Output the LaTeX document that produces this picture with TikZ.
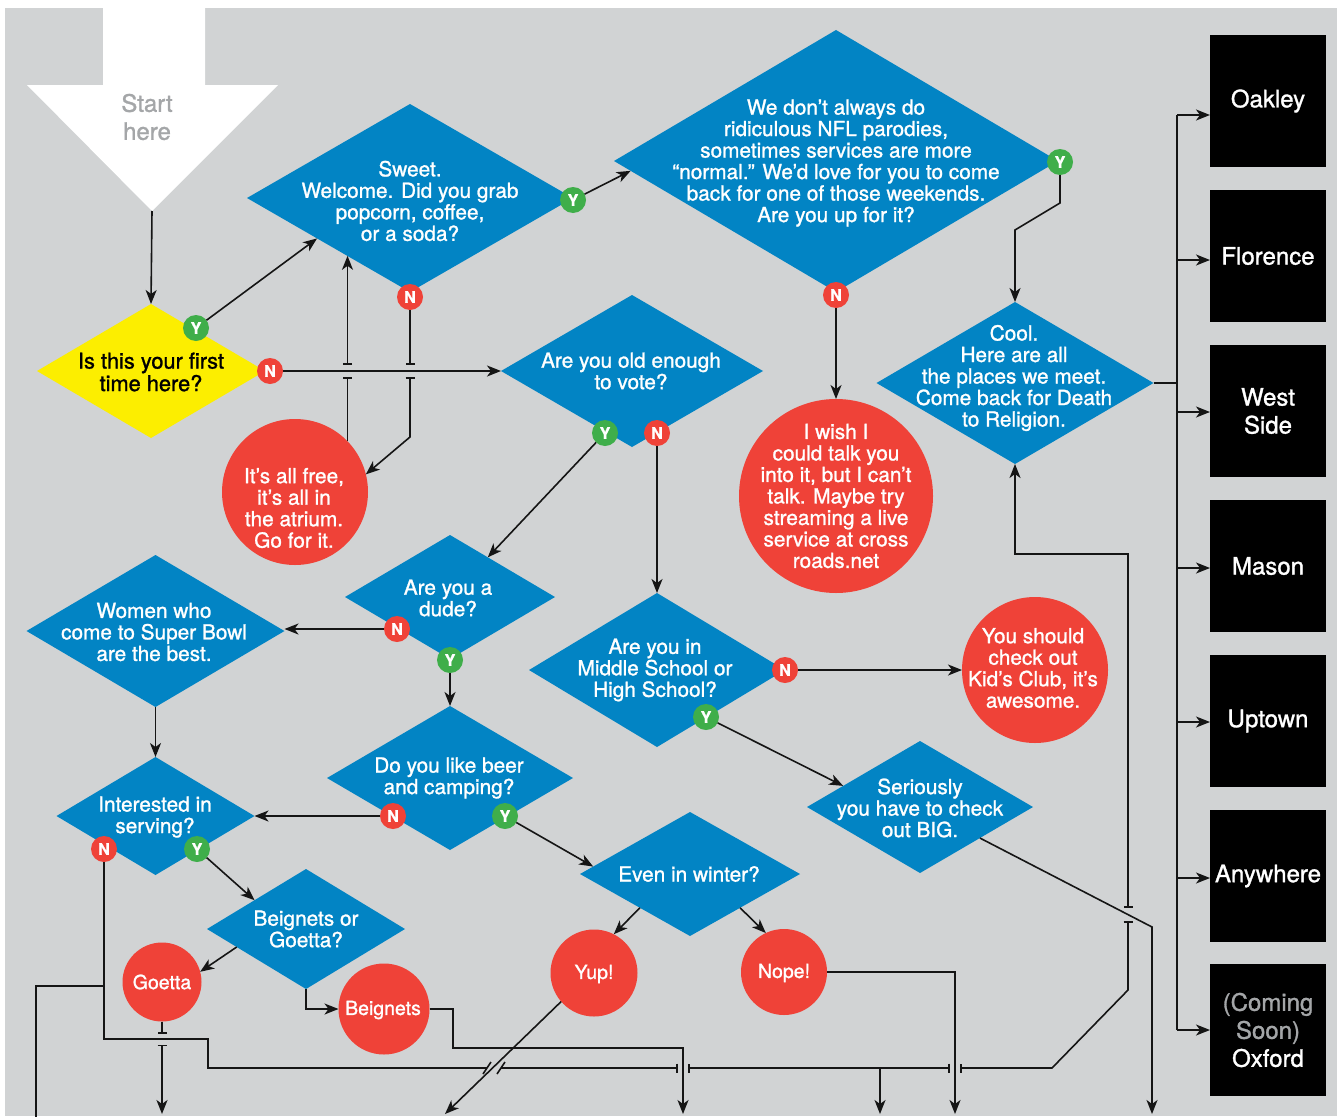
\documentclass[tikz,border=0pt]{standalone}
\usepackage{fontspec}
\setmainfont{TeX Gyre Heros}[RawFeature={embolden=1.2}]
\usetikzlibrary{shapes.geometric,arrows.meta,calc}
\definecolor{qblue}{HTML}{0284C4}
\definecolor{qyellow}{HTML}{FCEE00}
\definecolor{rred}{HTML}{EF4238}
\definecolor{ygreen}{HTML}{3FAE4A}
\definecolor{bg}{HTML}{D1D3D4}
\definecolor{lc}{HTML}{151515}
\definecolor{startgray}{HTML}{A4A6A8}
\begin{document}
\begin{tikzpicture}[x=1pt,y=-1pt,
  line/.style={draw=lc, line width=1.6pt},
  arr/.style={line, -{Stealth[length=14pt,width=11pt,inset=4pt]}},
  barend/.style={line, -{Bar[width=9pt]}},
  barstart/.style={line, {Bar[width=9pt]}-},
  barboth/.style={line, {Bar[width=9pt]}-{Bar[width=9pt]}},
  barstartarr/.style={line, {Bar[width=9pt]}-{Stealth[length=14pt,width=11pt,inset=4pt]}},
  dia/.style={diamond, fill=qblue, inner sep=0pt, outer sep=0pt},
  rc/.style={circle, fill=rred, inner sep=0pt, outer sep=0pt},
  qtxt/.style={text=white, align=center, inner sep=0pt, font=\fontsize{20.8}{21.5}\selectfont},
  stxt/.style={text=white, inner sep=0pt, font=\fontsize{19.5}{21}\selectfont},
  badge/.style={circle, minimum size=26pt, inner sep=0pt, outer sep=0pt, text=white, font=\bfseries\fontsize{16}{16}\selectfont},
  yb/.style={badge, fill=ygreen},
  nb/.style={badge, fill=rred},
  loc/.style={rectangle, fill=black, minimum width=116pt, minimum height=132pt, inner sep=0pt, outer sep=0pt, text=white, align=center, font=\fontsize{24}{28}\selectfont}
]
\useasboundingbox (0,0) rectangle (1337,1116);
\fill[white] (0,0) rectangle (1337,1116);
\fill[bg] (5,8) rectangle (1337,1116);
% start arrow
\fill[white] (103,7) -- (205,7) -- (205,85) -- (278,85) -- (152,211) -- (27,85) -- (103,85) -- cycle;
\coordinate (startTip) at (152,211);
\node[text=startgray, align=center, inner sep=0pt, font=\fontsize{24}{28}\selectfont] (startT) at (147,117) {Start\\here};

% diamonds
\node[dia, fill=qyellow, minimum width=228pt, minimum height=134pt] (q1) at (151,371) {};
\node[dia, minimum width=326pt, minimum height=188pt] (sweet) at (410,198) {};
\node[dia, minimum width=444pt, minimum height=262pt] (nfl) at (836,161) {};
\node[dia, minimum width=262pt, minimum height=152pt] (vote) at (632,371) {};
\node[dia, minimum width=277pt, minimum height=162pt] (cool) at (1015,383) {};
\node[dia, minimum width=210pt, minimum height=124pt] (dude) at (450,597) {};
\node[dia, minimum width=258pt, minimum height=152pt] (women) at (155.5,631) {};
\node[dia, minimum width=246pt, minimum height=144pt] (beer) at (450,778) {};
\node[dia, minimum width=198pt, minimum height=118pt] (int) at (155.5,816) {};
\node[dia, minimum width=198pt, minimum height=120pt] (bog) at (306,929) {};
\node[dia, minimum width=256pt, minimum height=154pt] (ms) at (657,670) {};
\node[dia, minimum width=226pt, minimum height=132pt] (big) at (920,807) {};
\node[dia, minimum width=220pt, minimum height=124pt] (winter) at (690,874) {};

% red circles
\node[rc, minimum size=146pt] (free) at (295,492) {};
\node[rc, minimum size=194pt] (wish) at (836,496) {};
\node[rc, minimum size=146pt] (kids) at (1035,670) {};
\node[rc, minimum size=79pt] (goetta) at (162,982) {};
\node[rc, minimum size=91pt] (beig) at (384,1009) {};
\node[rc, minimum size=87pt] (yup) at (594,973) {};
\node[rc, minimum size=86pt] (nope) at (784,972) {};

% location boxes
\node[loc] (oak) at (1268,101) {Oakley};
\node[loc] (flo) at (1268,256) {Florence};
\node[loc] (wes) at (1268,411) {West\\Side};
\node[loc] (mas) at (1268,566) {Mason};
\node[loc] (upt) at (1268,721) {Uptown};
\node[loc] (any) at (1268,876) {Anywhere};
\node[loc] (oxf) at (1268,1030) {{\color{startgray}(Coming}\\{\color{startgray}Soon)}\\Oxford};

% badges
\node[yb] (y1) at (196,328) {Y};
\node[nb] (n1) at (270,371) {N};
\node[yb] (sweetY) at (573,200) {Y};
\node[nb] (sweetN) at (410,297) {N};
\node[yb] (nflY) at (1060,162) {Y};
\node[nb] (nflN) at (836,295) {N};
\node[yb] (voteY) at (605,433) {Y};
\node[nb] (voteN) at (657,433) {N};
\node[nb] (dudeN) at (397,629) {N};
\node[yb] (dudeY) at (450,660) {Y};
\node[nb] (beerN) at (393,816) {N};
\node[yb] (beerY) at (505,816) {Y};
\node[nb] (intN) at (104,849) {N};
\node[yb] (intY) at (197,849) {Y};
\node[nb] (msN) at (785,670) {N};
\node[yb] (msY) at (706,717) {Y};

% texts
\node[qtxt, text=black, font=\fontsize{21.8}{22.5}\selectfont] (q1T) at (151,372) {Is this your first\\time here?};
\node[qtxt] (sweetT) at (410,201) {Sweet.\\Welcome. Did you grab\\popcorn, coffee,\\or a soda?};
\node[qtxt] (nflT) at (836,163) {We don’t always do\\ridiculous NFL parodies,\\sometimes services are more\\“normal.” We’d love for you to come\\back for one of those weekends.\\Are you up for it?};
\node[qtxt] (voteT) at (631,371) {Are you old enough\\to vote?};
\node[qtxt] (coolT) at (1014,378) {Cool.\\Here are all\\the places we meet.\\Come back for Death\\to Religion.};
\node[qtxt] (wishT) at (836,496) {I wish I\\could talk you\\into it, but I can’t\\talk. Maybe try\\streaming a live\\service at cross\\roads.net};
\node[qtxt] (freeT) at (294,508) {It’s all free,\\it’s all in\\the atrium.\\Go for it.};
\node[qtxt] (dudeT) at (448,598) {Are you a\\dude?};
\node[qtxt] (womenT) at (154,632) {Women who\\come to Super Bowl\\are the best.};
\node[qtxt] (msT) at (655,670) {Are you in\\Middle School or\\High School?};
\node[qtxt] (kidsT) at (1033,668) {You should\\check out\\Kid’s Club, it’s\\awesome.};
\node[qtxt] (beerT) at (449,778) {Do you like beer\\and camping?};
\node[qtxt] (intT) at (155,817) {Interested in\\serving?};
\node[qtxt] (bigT) at (920,808) {Seriously\\you have to check\\out BIG.};
\node[qtxt] (winterT) at (689,874) {Even in winter?};
\node[qtxt] (bogT) at (306,929) {Beignets or\\Goetta?};
\node[stxt] (goettaT) at (162,982) {Goetta};
\node[stxt] (beigT) at (383,1010) {Beignets};
\node[stxt] (yupT) at (594,974) {Yup!};
\node[stxt] (nopeT) at (784,973) {Nope!};

% edge points
\coordinate (e1) at ($(sweet.west)!0.43!(sweet.south)$);
\coordinate (e2) at ($(nfl.west)!0.075!(nfl.south)$);
\coordinate (e3) at ($(dude.north)!0.36!(dude.east)$);
\coordinate (e4) at ($(winter.west)!0.12!(winter.north)$);
\coordinate (e5) at ($(bog.west)!0.48!(bog.north)$);
\coordinate (e6) at ($(bog.west)!0.3!(bog.south)$);
\coordinate (e7) at ($(winter.west)!0.545!(winter.south)$);
\coordinate (e8) at ($(winter.east)!0.545!(winter.south)$);
\coordinate (e9) at ($(big.west)!0.32!(big.north)$);
\coordinate (e10) at ($(big.east)!0.47!(big.south)$);
\coordinate (e11) at ($(sweet.west)!0.615!(sweet.south)$);
\coordinate (busT) at ($(oak.west)+(-33,14)$);
\coordinate (outA) at (36,1120);
\coordinate (outB) at (162,1114);
\coordinate (outC) at (445,1114);
\coordinate (outD) at (683,1114);
\coordinate (outE) at (880,1114);
\coordinate (outF) at (955,1114);
\coordinate (outG) at (1152,1114);

% connectors
\draw[arr] (startTip) -- (q1.north);
\draw[arr] (y1) -- (e1);
\draw[arr] (n1) -- (vote.west);
\draw[arr] (sweetY) -- (e2);
% sweet N to free (with bridge)
\draw[barend] (sweetN) -- ($(sweetN |- n1.center)+(0,-6)$);
\draw[barstartarr] ($(sweetN |- n1.center)+(0,6)$) -- ($(sweetN)+(0,140)$) -- (free.14);
% free back up to sweet (with bridge)
\draw[barend] (free.44) -- ($(free.44 |- n1.center)+(0,6)$);
\draw[barstartarr] ($(free.44 |- n1.center)+(0,-6)$) -- (free.44 |- e11);
\draw[arr] (voteY) -- (e3);
\draw[arr] (voteN) -- (ms.north);
\draw[arr] (nflN) -- (wish.north);
\draw[arr] (nflY) -- ($(nflY)+(0,41)$) -- ($(cool.north)+(0,-72)$) -- (cool.north);
% bus to locations
\draw[line] (cool.east) -- (cool.east -| busT);
\draw[line] (busT) -- ($(oxf.west)+(-33,0)$);
\draw[arr] (busT) -- ($(oak.west)+(0,14)$);
\foreach \b/\d in {flo/4, wes/1, mas/2, upt/1, any/2, oxf/0}
  \draw[arr] ($(\b.west)+(-33,\d)$) -- ($(\b.west)+(0,\d)$);
\draw[arr] (dudeN) -- (dudeN -| women.east);
\draw[arr] (dudeY) -- (beer.north);
\draw[arr] (women.south) -- (int.north);
\draw[arr] (beerN) -- (int.east);
\draw[arr] (beerY) -- (e4);
\draw[arr] (intY) -- (e5);
\draw[arr] (e6) -- (goetta.15);
\draw[arr] (bog.south) |- (beig.west);
\draw[arr] (e7) -- (yup.63);
\draw[arr] (e8) -- (nope.115);
\draw[arr] (msN) -- (kids.west);
\draw[arr] (msY) -- (e9);
\draw[arr] (e10) -- (1152,927) -- (outG);
% Goetta down (bridge over horizontal)
\draw[barend] (goetta.south) -- (162,1033.5);
\draw[barstartarr] (162,1044.5) -- (outB);
% Beignets out
\draw[arr] (beig.east) -- (453,1009) -- (453,1048) -- (683,1048) -- (outD);
% Nope out
\draw[arr] (nope.east) -| (outF);
% Yup out
\draw[arr] (yup.221) -- (outC);
% Interested N and the long return loop to Cool
\draw[line] (intN) -- ($(intN)+(0,190)$) -- (208,1039) -- (208,1068) -- (487,1068);
\draw[line] ($(intN)+(0,137)$) -- ($(intN)+(-68,137)$) -- (outA);
\draw[line] (491,1062) -- (483,1074);
\draw[line] (505,1062) -- (497,1074);
\draw[barend] (501,1068) -- (678,1068);
\draw[barboth] (688,1068) -- (950,1068);
\draw[arr] (880,1068) -- (outE);
\draw[barboth] (960,1068) -- (1052,1068) -- (1128,990) -- (1128,921);
\draw[barstartarr] (1128,908) -- (1128,554) -| (cool.south);
\end{tikzpicture}
\end{document}
